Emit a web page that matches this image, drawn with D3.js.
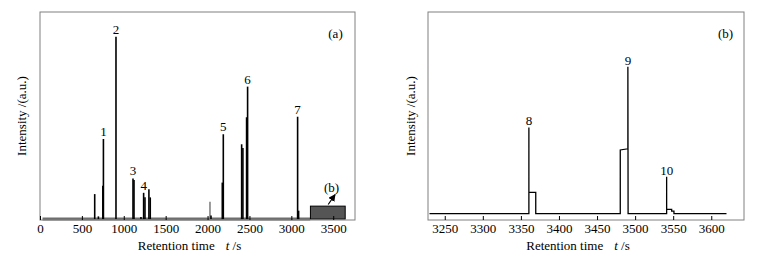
<!DOCTYPE html>
<html>
<head>
<meta charset="utf-8">
<script src="https://cdn.jsdelivr.net/npm/d3@7"></script>
<style>
  body { margin: 0; background: #fff; }
  text { font-family: "Liberation Serif", "Times New Roman", serif; fill: #000; }
</style>
</head>
<body>
<svg id="chart" width="770" height="260" font-family="Liberation Serif, serif"></svg>
<script>
// panel (a): full chromatogram, peaks as sticks
var peakTimesA   = [653, 697, 750, 757, 907, 1110, 1122, 1205, 1237, 1253, 1300, 1316, 2041, 2176, 2188, 2407, 2422, 2466, 2478, 3075, 3087];
var peakHeightsA = [13.7, 1.5, 18.3, 43.9, 100, 22.3, 21.4, 1.2, 14.4, 12, 16.3, 11.9, 2, 20, 46.5, 41, 39, 55.8, 72.6, 56.1, 4.6];
var faintTimesA   = [2029];
var faintHeightsA = [9.5];
var labelNamesA   = ["1", "2", "3", "4", "5", "6", "7"];
var labelTimesA   = [757, 907, 1110, 1237, 2188, 2478, 3075];
var labelHeightsA = [43.9, 100, 22.3, 14.4, 46.5, 72.6, 56.1];
var ticksA = [0, 500, 1000, 1500, 2000, 2500, 3000, 3500];
var baselineA = [30, 3225];

// panel (b): zoom of 3228-3643 s
var timesB  = [3230, 3360.5, 3360.5, 3360.5, 3369.5, 3369.5, 3480.5, 3480.5, 3490.5, 3490.5, 3490.8, 3541.4, 3541.4, 3541.4, 3548, 3548, 3551, 3551, 3620];
var valuesB = [0, 0, 58.7, 14.4, 14.4, 0, 0, 43.3, 44.1, 100, 0, 0, 25.1, 2.9, 2.9, 1.7, 1.7, 0, 0];
var labelNamesB   = ["8", "9", "10"];
var labelTimesB   = [3360.5, 3490.5, 3541.4];
var labelHeightsB = [58.7, 100, 25.1];
var ticksB = [3250, 3300, 3350, 3400, 3450, 3500, 3550, 3600];
var domainB = [3228, 3643];

var svg = d3.select("#chart");

function frame(g, x, y) {
  g.append("rect")
    .attr("x", x.range()[0]).attr("y", y.range()[1])
    .attr("width", x.range()[1] - x.range()[0])
    .attr("height", y.range()[0] - y.range()[1])
    .attr("fill", "none").attr("stroke", "#808080").attr("stroke-width", 1);
}

function axes(g, x, y, ticks, yLabelX) {
  var ax = g.append("g")
    .attr("transform", "translate(0," + y.range()[0] + ")")
    .call(d3.axisBottom(x).tickValues(ticks).tickFormat(d3.format("d"))
      .tickSizeInner(-4).tickSizeOuter(0).tickPadding(4));
  ax.attr("font-family", "Liberation Serif, serif").attr("font-size", 13);
  ax.select(".domain").remove();
  ax.selectAll("line").attr("stroke", "#000");
  ax.selectAll("text").attr("fill", "#000");

  var cx = (x.range()[0] + x.range()[1]) / 2 - 8;
  var title = g.append("text").attr("x", cx).attr("y", 249.5)
    .attr("text-anchor", "middle").attr("font-size", 13);
  title.append("tspan").text("Retention time");
  title.append("tspan").attr("dx", 11).attr("font-style", "italic").text("t");
  title.append("tspan").text(" /s");

  g.append("text")
    .attr("transform", "translate(" + yLabelX + "," + (y.range()[0] + y.range()[1]) / 2 + ") rotate(-90)")
    .attr("text-anchor", "middle").attr("font-size", 13)
    .text("Intensity /(a.u.)");
}

// ---- panel (a)
var xA = d3.scaleLinear().domain([0, 3760]).range([40, 355]);
var yA = d3.scaleLinear().domain([-0.5, 113.5]).range([220, 12]);
var gA = svg.append("g");

gA.append("line")
  .attr("x1", xA(baselineA[0])).attr("x2", xA(baselineA[1]))
  .attr("y1", yA(0)).attr("y2", yA(0))
  .attr("stroke", "#6e6e6e").attr("stroke-width", 3);

gA.selectAll(".faint").data(faintTimesA).enter().append("line")
  .attr("x1", function(d) { return xA(d); }).attr("x2", function(d) { return xA(d); })
  .attr("y1", yA(0)).attr("y2", function(d, i) { return yA(faintHeightsA[i]); })
  .attr("stroke", "#7a7a7a").attr("stroke-width", 1.5);

gA.selectAll(".peak").data(peakTimesA).enter().append("line")
  .attr("x1", function(d) { return xA(d); }).attr("x2", function(d) { return xA(d); })
  .attr("y1", yA(0)).attr("y2", function(d, i) { return yA(peakHeightsA[i]); })
  .attr("stroke", "#000").attr("stroke-width", 1.6);

// zoom box marking panel (b)
gA.append("rect")
  .attr("x", xA(domainB[0])).attr("y", yA(7.1))
  .attr("width", xA(domainB[1]) - xA(domainB[0]))
  .attr("height", yA(0) - yA(7.1))
  .attr("fill", "#555").attr("stroke", "#000").attr("stroke-width", 1);

gA.selectAll(".lab").data(labelNamesA).enter().append("text")
  .attr("x", function(d, i) { return xA(labelTimesA[i]); })
  .attr("y", function(d, i) { return yA(labelHeightsA[i]) - 3; })
  .attr("text-anchor", "middle").attr("font-size", 13)
  .text(function(d) { return d; });

gA.append("text").attr("x", 335.5).attr("y", 38).attr("text-anchor", "middle")
  .attr("font-size", 13).text("(a)");

gA.append("text").attr("x", xA(3481)).attr("y", yA(14.8)).attr("text-anchor", "middle")
  .attr("font-size", 13).text("(b)");

svg.append("defs").append("marker")
  .attr("id", "head").attr("viewBox", "0 0 10 10").attr("refX", 9).attr("refY", 5)
  .attr("markerWidth", 6).attr("markerHeight", 6).attr("orient", "auto")
  .append("path").attr("d", "M0,0L10,5L0,10z").attr("fill", "#000");

gA.append("line")
  .attr("x1", xA(3440)).attr("y1", yA(8))
  .attr("x2", xA(3522)).attr("y2", yA(13.4))
  .attr("stroke", "#000").attr("stroke-width", 1.2)
  .attr("marker-end", "url(#head)");

frame(gA, xA, yA);
axes(gA, xA, yA, ticksA, 26);

// ---- panel (b)
var xB = d3.scaleLinear().domain(domainB).range([428, 744]);
var yB = d3.scaleLinear().domain([-4.4, 137.3]).range([220, 12]);
var gB = svg.append("g");

var line = d3.line()
  .x(function(d) { return xB(d[0]); })
  .y(function(d) { return yB(d[1]); });

gB.append("path")
  .datum(timesB.map(function(t, i) { return [t, valuesB[i]]; }))
  .attr("d", line)
  .attr("fill", "none").attr("stroke", "#000").attr("stroke-width", 1.3);

gB.selectAll(".lab").data(labelNamesB).enter().append("text")
  .attr("x", function(d, i) { return xB(labelTimesB[i]); })
  .attr("y", function(d, i) { return yB(labelHeightsB[i]) - 2; })
  .attr("text-anchor", "middle").attr("font-size", 13)
  .text(function(d) { return d; });

gB.append("text").attr("x", 725.5).attr("y", 38).attr("text-anchor", "middle")
  .attr("font-size", 13).text("(b)");

frame(gB, xB, yB);
axes(gB, xB, yB, ticksB, 415);
</script>
</body>
</html>
